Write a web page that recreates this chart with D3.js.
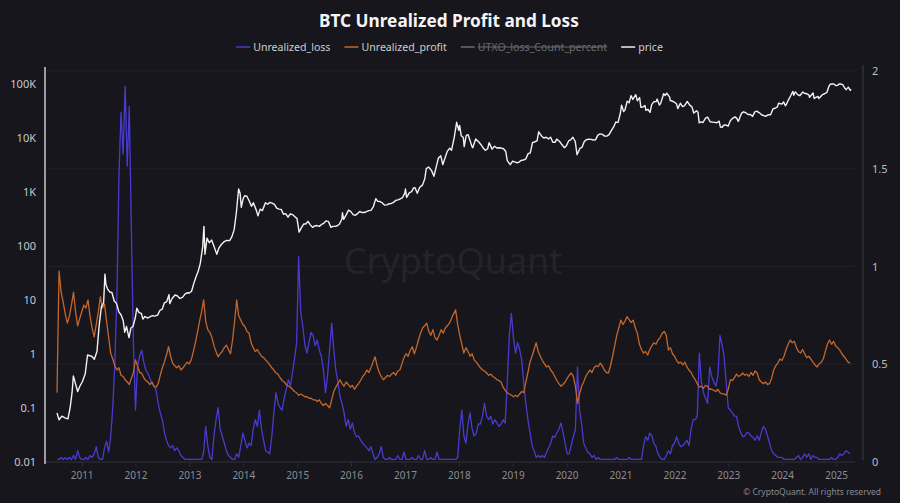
<!DOCTYPE html>
<html>
<head>
<meta charset="utf-8">
<script src="https://cdn.jsdelivr.net/npm/d3@7"></script>
<style>
  body { margin: 0; background: #16161c; }
  svg { display: block; font-family: "Noto Sans", "Open Sans", sans-serif; }
</style>
</head>
<body>
<svg id="chart" width="900" height="503"></svg>
<script>
// BTC price (USD)
var priceData = [
["2010-07-18",0.08],["2010-08-01",0.06],["2010-08-20",0.07],["2010-09-10",0.065],["2010-09-30",0.062],
["2010-10-15",0.10],["2010-10-28",0.19],["2010-11-06",0.39],["2010-11-20",0.28],["2010-12-05",0.20],
["2010-12-20",0.25],["2011-01-05",0.30],["2011-01-25",0.42],["2011-02-10",0.95],["2011-02-25",0.92],
["2011-03-10",0.90],["2011-03-28",0.79],["2011-04-15",1.1],["2011-04-30",3.4],["2011-05-15",7.5],
["2011-05-30",8.8],["2011-06-08",30],["2011-06-15",19],["2011-06-25",16],["2011-07-10",14],
["2011-07-25",13.7],["2011-08-10",9.5],["2011-08-25",8.6],["2011-09-10",6],["2011-09-25",5.3],
["2011-10-10",4.1],["2011-10-20",2.5],["2011-11-01",3.2],["2011-11-18",2.0],["2011-12-01",3.0],
["2011-12-15",3.2],["2011-12-31",4.7],["2012-01-10",7.0],["2012-01-25",5.8],["2012-02-10",5.6],
["2012-02-20",4.4],["2012-03-05",4.9],["2012-03-25",4.6],["2012-04-10",4.9],["2012-04-25",5.1],
["2012-05-10",5.0],["2012-05-30",5.2],["2012-06-15",6.4],["2012-06-30",6.7],["2012-07-15",8.8],
["2012-07-31",9.3],["2012-08-15",12.5],["2012-08-20",8.5],["2012-09-05",10.6],["2012-09-25",12.3],
["2012-10-10",11.9],["2012-10-28",10.6],["2012-11-15",11.1],["2012-11-30",12.6],["2012-12-15",13.5],
["2012-12-31",13.4],["2013-01-15",14.4],["2013-01-31",20.4],["2013-02-15",27],["2013-02-28",33],
["2013-03-15",47],["2013-03-31",93],["2013-04-09",230],["2013-04-16",70],["2013-04-30",139],
["2013-05-15",114],["2013-05-31",128],["2013-06-15",100],["2013-07-05",70],["2013-07-20",92],
["2013-08-05",106],["2013-08-25",120],["2013-09-10",126],["2013-09-30",125],["2013-10-15",147],
["2013-10-31",200],["2013-11-15",420],["2013-11-30",1130],["2013-12-10",950],["2013-12-18",520],
["2013-12-31",750],["2014-01-10",850],["2014-01-25",830],["2014-02-10",680],["2014-02-25",540],
["2014-03-10",630],["2014-03-31",450],["2014-04-10",360],["2014-04-25",480],["2014-05-10",450],
["2014-05-31",630],["2014-06-15",590],["2014-06-30",640],["2014-07-15",620],["2014-07-31",585],
["2014-08-15",500],["2014-08-31",480],["2014-09-15",475],["2014-09-30",385],["2014-10-15",395],
["2014-10-31",340],["2014-11-15",390],["2014-11-30",380],["2014-12-15",350],["2014-12-31",320],
["2015-01-14",180],["2015-01-31",220],["2015-02-15",255],["2015-02-28",255],["2015-03-15",285],
["2015-03-31",245],["2015-04-15",220],["2015-04-30",235],["2015-05-15",238],["2015-05-31",230],
["2015-06-15",250],["2015-06-30",262],["2015-07-15",290],["2015-07-31",285],["2015-08-18",220],
["2015-08-31",230],["2015-09-15",230],["2015-09-30",236],["2015-10-15",255],["2015-10-31",315],
["2015-11-04",410],["2015-11-12",310],["2015-11-30",380],["2015-12-15",460],["2015-12-31",430],
["2016-01-15",380],["2016-01-31",370],["2016-02-15",400],["2016-02-29",435],["2016-03-15",415],
["2016-03-31",415],["2016-04-15",430],["2016-04-30",450],["2016-05-15",455],["2016-05-31",530],
["2016-06-17",750],["2016-06-30",670],["2016-07-15",665],["2016-07-31",625],["2016-08-15",570],
["2016-08-31",575],["2016-09-15",605],["2016-09-30",610],["2016-10-15",640],["2016-10-31",700],
["2016-11-15",712],["2016-11-30",745],["2016-12-15",780],["2016-12-31",960],["2017-01-04",1130],
["2017-01-12",790],["2017-01-31",970],["2017-02-15",1010],["2017-02-28",1190],["2017-03-10",1200],
["2017-03-25",940],["2017-04-10",1210],["2017-04-30",1350],["2017-05-15",1750],["2017-05-25",2700],
["2017-06-10",2900],["2017-06-30",2480],["2017-07-16",1950],["2017-07-31",2870],["2017-08-15",4200],
["2017-08-31",4700],["2017-09-14",3200],["2017-09-30",4340],["2017-10-15",5700],["2017-10-31",6450],
["2017-11-12",5900],["2017-11-30",10000],["2017-12-17",19500],["2017-12-31",13800],["2018-01-06",17100],
["2018-01-17",11000],["2018-01-31",10200],["2018-02-06",6900],["2018-02-20",11200],["2018-03-05",11500],
["2018-03-31",6900],["2018-04-05",6600],["2018-04-25",9600],["2018-05-15",8500],["2018-05-31",7500],
["2018-06-15",6500],["2018-06-29",5900],["2018-07-15",6300],["2018-07-25",8200],["2018-08-14",6200],
["2018-08-31",7000],["2018-09-15",6500],["2018-09-30",6600],["2018-10-15",6500],["2018-10-31",6300],
["2018-11-15",5600],["2018-11-25",3800],["2018-12-15",3200],["2018-12-31",3700],["2019-01-15",3600],
["2019-01-31",3450],["2019-02-15",3600],["2019-02-28",3850],["2019-03-15",3900],["2019-03-31",4100],
["2019-04-15",5100],["2019-04-30",5300],["2019-05-15",8200],["2019-05-31",8500],["2019-06-15",8800],
["2019-06-26",13000],["2019-07-15",10900],["2019-07-31",10000],["2019-08-15",10300],["2019-08-31",9600],
["2019-09-15",10300],["2019-09-30",8300],["2019-10-15",8300],["2019-10-26",9500],["2019-11-15",8600],
["2019-11-30",7550],["2019-12-18",6600],["2019-12-31",7200],["2020-01-15",8800],["2020-01-31",9350],
["2020-02-13",10300],["2020-02-29",8600],["2020-03-12",4900],["2020-03-31",6400],["2020-04-15",6700],
["2020-04-30",8600],["2020-05-15",9300],["2020-05-31",9450],["2020-06-15",9400],["2020-06-30",9150],
["2020-07-15",9200],["2020-07-31",11300],["2020-08-15",11900],["2020-08-31",11650],["2020-09-15",10800],
["2020-09-30",10800],["2020-10-15",11500],["2020-10-31",13800],["2020-11-15",16000],["2020-11-30",19700],
["2020-12-15",19400],["2020-12-31",29000],["2021-01-08",40500],["2021-01-22",30800],["2021-01-31",33100],
["2021-02-15",48000],["2021-02-28",45000],["2021-03-13",61000],["2021-03-25",51700],["2021-04-14",63500],
["2021-04-25",49000],["2021-05-10",56000],["2021-05-19",37000],["2021-05-31",37300],["2021-06-15",40000],
["2021-06-22",32500],["2021-07-05",34000],["2021-07-20",29800],["2021-07-31",41500],["2021-08-15",47000],
["2021-08-31",47100],["2021-09-06",52600],["2021-09-21",40700],["2021-09-30",43800],["2021-10-20",65900],
["2021-10-31",61300],["2021-11-10",67500],["2021-11-30",57000],["2021-12-04",49000],["2021-12-15",48900],
["2021-12-31",46300],["2022-01-15",43000],["2022-01-24",35000],["2022-02-10",44000],["2022-02-24",38300],
["2022-03-10",39400],["2022-03-29",47400],["2022-04-15",40500],["2022-04-30",37700],["2022-05-12",29000],
["2022-05-31",31800],["2022-06-10",30000],["2022-06-18",19000],["2022-06-30",19800],["2022-07-13",19300],
["2022-07-31",23300],["2022-08-14",24300],["2022-08-31",20000],["2022-09-15",19700],["2022-09-30",19400],
["2022-10-15",19100],["2022-10-31",20500],["2022-11-09",15900],["2022-11-21",15800],["2022-11-30",17200],
["2022-12-15",17400],["2022-12-31",16550],["2023-01-15",20900],["2023-01-31",23100],["2023-02-16",24600],
["2023-02-28",23100],["2023-03-10",20200],["2023-03-31",28500],["2023-04-14",30500],["2023-04-30",29300],
["2023-05-15",27200],["2023-05-31",27200],["2023-06-15",25100],["2023-06-30",30500],["2023-07-13",31400],
["2023-07-31",29200],["2023-08-17",26600],["2023-08-31",26000],["2023-09-11",25100],["2023-09-30",27000],
["2023-10-15",26900],["2023-10-31",34500],["2023-11-15",35500],["2023-11-30",37700],["2023-12-08",44000],
["2023-12-31",42300],["2024-01-11",46600],["2024-01-23",39500],["2024-01-31",42600],["2024-02-15",52000],
["2024-02-29",61200],["2024-03-14",73000],["2024-03-20",62000],["2024-03-31",71300],["2024-04-15",63400],
["2024-04-30",60600],["2024-05-20",71000],["2024-05-31",67500],["2024-06-15",66000],["2024-06-30",62700],
["2024-07-05",56700],["2024-07-29",68200],["2024-08-05",54000],["2024-08-31",59000],["2024-09-06",53900],
["2024-09-30",63300],["2024-10-15",66000],["2024-10-31",70200],["2024-11-13",90000],["2024-11-22",98900],
["2024-12-05",103000],["2024-12-17",106100],["2024-12-31",93400],["2025-01-12",94500],["2025-01-20",106000],
["2025-01-31",102400],["2025-02-15",97500],["2025-02-28",84400],["2025-03-10",78600],["2025-03-25",87500],
["2025-04-07",76300],["2025-04-12",80000]
];

// the two on-chain series are sampled every 14 days from the first date
var seriesStart = "2010-07-18";
var seriesStepDays = 14;

// Unrealized_profit (orange)
var profitValues = [
0.19,34,14,9,5.5,3.7,5,8,13.8,6,
3.3,4.5,6,8,7,10,5,3,2.05,3.5,
6,11.4,7,8.3,4,2,1.03,0.8,0.6,0.5,
0.55,0.4,0.38,0.33,0.3,0.27,0.35,0.45,0.77,0.6,
0.45,0.44,0.36,0.32,0.3,0.27,0.3,0.25,0.24,0.28,
0.4,0.55,0.7,0.95,1.35,0.9,0.67,0.6,0.55,0.6,
0.5,0.55,0.62,0.7,0.65,0.77,1.1,1.6,2.5,4,
6,10,4,2.8,2.5,2,1.4,1.1,0.88,1.0,
1.1,1.3,1.45,1.2,1.0,1.8,4,10,5,4.2,
3.5,3.2,2.6,2.4,1.6,1.3,1.1,1.2,1.03,0.9,
0.85,0.77,0.7,0.62,0.55,0.5,0.44,0.42,0.36,0.32,
0.3,0.27,0.25,0.24,0.22,0.2,0.19,0.17,0.18,0.17,
0.16,0.16,0.15,0.15,0.14,0.14,0.13,0.14,0.12,0.11,
0.12,0.11,0.10,0.14,0.2,0.24,0.28,0.33,0.28,0.25,
0.3,0.27,0.24,0.26,0.22,0.25,0.28,0.32,0.38,0.42,
0.5,0.45,0.55,0.7,0.88,0.6,0.45,0.38,0.33,0.36,
0.4,0.38,0.42,0.45,0.4,0.48,0.5,0.65,0.85,1.0,
0.9,1.15,1.35,1.0,1.3,1.8,2.4,3.0,3.3,3.7,
2.6,2.2,2.8,2.0,1.8,2.2,2.8,2.4,3.0,3.3,
3.7,4.5,5.5,6.5,3.5,2.2,1.5,1.03,1.3,1.1,
0.9,1.0,0.77,0.7,0.62,0.55,0.5,0.48,0.44,0.4,
0.42,0.38,0.36,0.33,0.32,0.3,0.24,0.21,0.19,0.18,
0.17,0.16,0.17,0.16,0.18,0.2,0.19,0.3,0.45,0.7,
0.9,1.2,1.6,1.1,0.9,0.75,0.65,0.57,0.6,0.5,
0.45,0.38,0.32,0.28,0.25,0.27,0.3,0.35,0.4,0.44,
0.38,0.25,0.12,0.18,0.25,0.3,0.38,0.44,0.5,0.45,
0.55,0.6,0.58,0.67,0.6,0.5,0.45,0.44,0.6,0.9,
1.4,2.2,3.0,4.2,3.5,4.0,4.9,4.3,3.8,4.2,
3.0,2.4,1.5,1.2,1.03,1.1,0.95,1.2,1.4,1.6,
1.5,1.8,2.0,2.4,2.6,2.2,1.17,1.3,1.0,0.9,
0.75,0.67,0.7,0.62,0.7,0.57,0.5,0.45,0.38,0.33,
0.28,0.24,0.25,0.23,0.26,0.25,0.22,0.22,0.21,0.2,
0.22,0.19,0.18,0.18,0.17,0.22,0.33,0.32,0.36,0.42,
0.38,0.4,0.44,0.4,0.42,0.38,0.45,0.4,0.48,0.44,
0.33,0.3,0.28,0.3,0.27,0.28,0.35,0.5,0.6,0.67,
0.8,0.75,0.9,1.2,1.5,1.8,1.6,1.7,1.3,1.1,
1.03,1.2,1.0,0.85,0.9,0.8,0.7,0.62,0.57,0.65,
0.7,0.8,1.1,1.5,1.8,1.5,1.7,1.4,1.3,1.17,
1.0,0.9,0.8,0.7,0.67
];

// Unrealized_loss (blue)
var lossValues = [
0.011,0.011,0.012,0.011,0.012,0.011,0.012,0.011,0.013,0.011,
0.016,0.012,0.011,0.011,0.012,0.011,0.013,0.012,0.014,0.019,
0.012,0.011,0.011,0.018,0.024,0.015,0.029,0.1,0.67,11,
2000,30000,5000,90000,3000,38000,200,1.5,0.09,0.6,
0.9,1.17,0.7,0.5,0.44,0.35,0.28,0.25,0.21,0.12,
0.08,0.06,0.035,0.025,0.02,0.018,0.02,0.016,0.018,0.016,
0.013,0.012,0.011,0.011,0.011,0.011,0.011,0.011,0.011,0.011,
0.011,0.015,0.045,0.02,0.012,0.011,0.03,0.06,0.1,0.04,
0.03,0.022,0.016,0.013,0.012,0.011,0.011,0.014,0.012,0.02,
0.034,0.025,0.018,0.022,0.02,0.04,0.06,0.045,0.09,0.04,
0.025,0.016,0.015,0.014,0.03,0.08,0.19,0.12,0.1,0.09,
0.15,0.22,0.33,0.25,0.45,0.8,1.6,63,6,3.2,
1.5,1.03,1.6,2.5,2.2,1.4,1.8,1.17,0.9,0.5,
0.19,0.4,1.2,3.7,1.2,0.5,0.3,0.16,0.12,0.08,
0.045,0.06,0.04,0.052,0.035,0.029,0.03,0.025,0.022,0.02,
0.018,0.016,0.019,0.014,0.011,0.012,0.014,0.019,0.012,0.011,
0.011,0.012,0.011,0.011,0.011,0.013,0.011,0.011,0.015,0.011,
0.011,0.011,0.012,0.011,0.011,0.013,0.011,0.011,0.016,0.011,
0.011,0.012,0.011,0.011,0.015,0.011,0.011,0.011,0.011,0.011,
0.011,0.011,0.011,0.011,0.012,0.04,0.09,0.03,0.022,0.05,
0.08,0.04,0.03,0.034,0.05,0.05,0.07,0.12,0.07,0.06,
0.07,0.05,0.06,0.052,0.045,0.05,0.06,0.052,0.3,2.2,
5.6,2,1.03,1.6,1.2,0.77,0.28,0.12,0.06,0.035,
0.02,0.016,0.012,0.013,0.012,0.013,0.012,0.015,0.018,0.022,
0.03,0.028,0.034,0.04,0.052,0.035,0.022,0.014,0.014,0.02,
0.029,0.04,0.57,0.09,0.05,0.022,0.018,0.015,0.014,0.012,
0.013,0.011,0.012,0.011,0.011,0.011,0.011,0.011,0.011,0.011,
0.011,0.012,0.011,0.011,0.011,0.011,0.011,0.012,0.011,0.011,
0.011,0.011,0.011,0.011,0.02,0.029,0.025,0.034,0.03,0.022,
0.019,0.014,0.012,0.011,0.011,0.013,0.016,0.014,0.02,0.022,
0.029,0.022,0.019,0.02,0.022,0.025,0.02,0.04,0.06,0.06,
0.07,1.03,0.3,0.19,0.15,0.12,0.57,0.38,0.3,0.25,
0.4,2.2,1.5,0.88,0.3,0.1,0.09,0.08,0.07,0.07,
0.045,0.035,0.029,0.03,0.035,0.034,0.03,0.028,0.025,0.03,
0.025,0.035,0.045,0.04,0.03,0.022,0.016,0.014,0.013,0.012,
0.012,0.012,0.011,0.011,0.011,0.011,0.011,0.011,0.012,0.013,
0.011,0.012,0.014,0.012,0.014,0.011,0.013,0.012,0.012,0.011,
0.011,0.011,0.011,0.011,0.011,0.012,0.011,0.011,0.012,0.014,
0.013,0.014,0.016,0.015,0.014
];

var leftTicks = [0.01, 0.1, 1, 10, 100, 1000, 10000, 100000];
var leftTickLabels = ["0.01", "0.1", "1", "10", "100", "1K", "10K", "100K"];
var rightTicks = [0, 0.5, 1, 1.5, 2];
var legendNames = ["Unrealized_loss", "Unrealized_profit", "UTXO_loss_Count_percent", "price"];
var legendColors = ["#4a3bd0", "#c4672b", "#6b6b70", "#f2f2f2"];

var parse = d3.timeParse("%Y-%m-%d");
var t0 = parse(seriesStart);
function onGrid(vals) {
  return vals.map(function(v, i) { return {date: d3.timeDay.offset(t0, i * seriesStepDays), value: v}; });
}
var price = priceData.map(function(d) { return {date: parse(d[0]), value: d[1]}; });
var profit = onGrid(profitValues), loss = onGrid(lossValues);

var svg = d3.select("#chart");
var plotLeft = 45, plotRight = 863, plotTop = 67, plotBottom = 462;

svg.append("rect").attr("width", 900).attr("height", 503).attr("fill", "#16161c");

var x = d3.scaleTime().domain([parse("2010-07-18"), parse("2025-04-12")]).range([57, 851]);
var yL = d3.scaleLog().domain([0.01, 100000]).range([461.7, 84]).clamp(true);
var yR = d3.scaleLinear().domain([0, 2]).range([462, 71]);

// gridlines (right axis)
svg.append("g").selectAll("line").data(rightTicks).enter().append("line")
  .attr("x1", plotLeft).attr("x2", plotRight - 8)
  .attr("y1", d => yR(d)).attr("y2", d => yR(d))
  .attr("stroke", "#222128").attr("stroke-width", 1);

// watermark
svg.append("text").attr("x", 453).attr("y", 274).attr("text-anchor", "middle")
  .attr("font-size", 36).attr("fill", "#242329").text("CryptoQuant");

// x axis
var xAxis = svg.append("g").attr("transform", "translate(0," + plotBottom + ")")
  .call(d3.axisBottom(x).ticks(d3.timeYear.every(1)).tickFormat(d3.timeFormat("%Y")).tickSize(5).tickPadding(5));
xAxis.select(".domain").attr("stroke", "#2c2b33").attr("d", "M" + plotLeft + ",0H" + (plotRight - 8));
xAxis.selectAll(".tick line").attr("stroke", "#2c2b33");
xAxis.selectAll("text").attr("fill", "#8d8d93").attr("font-size", 10).attr("font-family", "Noto Sans");

// left axis
var yAxisL = svg.append("g").attr("transform", "translate(" + plotLeft + ",0)")
  .call(d3.axisLeft(yL).tickValues(leftTicks).tickFormat((d, i) => leftTickLabels[i]).tickSize(0).tickPadding(9));
yAxisL.select(".domain").remove();
yAxisL.selectAll("text").attr("fill", "#c9c9cd").attr("font-size", 11).attr("font-family", "Noto Sans");
svg.append("line").attr("x1", plotLeft).attr("x2", plotLeft).attr("y1", plotTop).attr("y2", plotBottom + 2)
  .attr("stroke", "#bdbdc2").attr("stroke-width", 1.6);

// right axis
var yAxisR = svg.append("g").attr("transform", "translate(" + plotRight + ",0)")
  .call(d3.axisRight(yR).tickValues(rightTicks).tickFormat(d3.format("")).tickSize(0).tickPadding(9));
yAxisR.select(".domain").remove();
yAxisR.selectAll("text").attr("fill", "#bdbdc2").attr("font-size", 11).attr("font-family", "Noto Sans");
svg.append("line").attr("x1", plotRight).attr("x2", plotRight).attr("y1", plotTop - 2).attr("y2", plotBottom - 2)
  .attr("stroke", "#3b3a42").attr("stroke-width", 1);

// series
var line = d3.line().x(d => x(d.date)).y(d => yL(d.value));
svg.append("path").datum(loss).attr("d", line).attr("fill", "none")
  .attr("stroke", legendColors[0]).attr("stroke-width", 1.3).attr("stroke-linejoin", "round");
svg.append("path").datum(profit).attr("d", line).attr("fill", "none")
  .attr("stroke", legendColors[1]).attr("stroke-width", 1.3).attr("stroke-linejoin", "round");
svg.append("path").datum(price).attr("d", line).attr("fill", "none")
  .attr("stroke", legendColors[3]).attr("stroke-width", 1.4).attr("stroke-linejoin", "round");

// title
svg.append("text").attr("x", 449).attr("y", 27).attr("text-anchor", "middle")
  .attr("font-size", 17.2).attr("font-weight", "bold").attr("fill", "#f4f4f6")
  .text("BTC Unrealized Profit and Loss");

// legend
var lg = svg.append("g");
var cx = 0;
legendNames.forEach(function(name, i) {
  var item = lg.append("g").attr("transform", "translate(" + cx + ",0)");
  item.append("line").attr("x1", 0).attr("x2", 14).attr("y1", 0).attr("y2", 0)
    .attr("stroke", legendColors[i]).attr("stroke-width", 1.5);
  var t = item.append("text").attr("x", 17).attr("y", 4).attr("font-size", 10.6)
    .attr("fill", i == 2 ? "#6b6b70" : "#cfcfd3").text(name);
  var w = t.node().getComputedTextLength();
  if (i == 2) {
    item.append("line").attr("x1", 17).attr("x2", 17 + w).attr("y1", 0).attr("y2", 0)
      .attr("stroke", "#6b6b70").attr("stroke-width", 1);
  }
  cx += 17 + w + 14;
});
var lgW = cx - 14;
lg.attr("transform", "translate(" + (449.5 - lgW / 2) + ",47)");

// footer
svg.append("text").attr("x", 881).attr("y", 495).attr("text-anchor", "end")
  .attr("font-size", 8.5).attr("fill", "#8a8a90").text("\u00a9 CryptoQuant. All rights reserved");
</script>
</body>
</html>
